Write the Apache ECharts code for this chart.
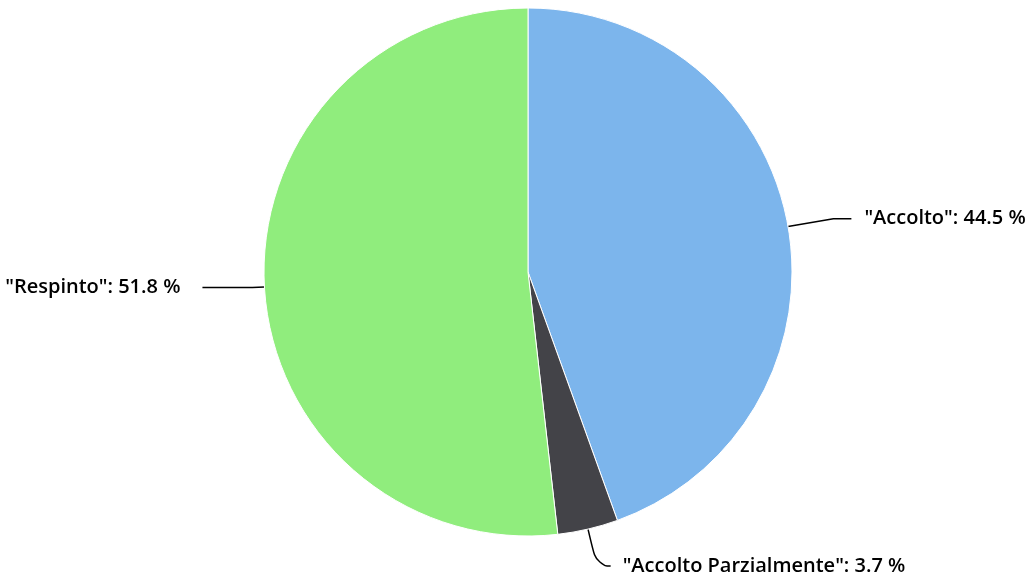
<!DOCTYPE html>
<html><head><meta charset="utf-8">
<script src="https://cdn.jsdelivr.net/npm/echarts@6/dist/echarts.min.js"></script>
<style>html,body{margin:0;padding:0;background:#fff}#c{width:1032px;height:582px}</style>
</head><body><div id="c"></div>
<script>
const categories = ["Accolto", "Accolto Parzialmente", "Respinto"];
const values = [44.5, 3.7, 51.8];
const colors = ["#7cb5ec", "#434348", "#90ed7d"];

const lineStyles = [
  {length: 46, length2: 18, smooth: false, gap: 13},
  {length: 38, length2: 14, smooth: 0.6, gap: 12},
  {length: 12, length2: 50, smooth: false, gap: 22}
];

const chart = echarts.init(document.getElementById('c'), null, {renderer: 'canvas'});
chart.setOption({
  animation: false,
  series: [{
    type: 'pie',
    center: [528, 272],
    radius: [0, 264],
    startAngle: 90,
    clockwise: true,
    avoidLabelOverlap: false,
    itemStyle: {borderColor: '#ffffff', borderWidth: 1},
    label: {
      show: true,
      position: 'outside',
      formatter: '"{b}": {c} %',
      fontFamily: 'Open Sans',
      fontWeight: 600,
      fontSize: 20,
      color: '#000000'
    },
    labelLine: {show: true, lineStyle: {color: '#000000', width: 1.5}},
    emphasis: {disabled: true},
    data: categories.map((n, i) => ({
      name: n,
      value: values[i],
      itemStyle: {color: colors[i]},
      label: {distanceToLabelLine: lineStyles[i].gap},
      labelLine: {length: lineStyles[i].length, length2: lineStyles[i].length2, smooth: lineStyles[i].smooth}
    }))
  }]
});
</script></body></html>
